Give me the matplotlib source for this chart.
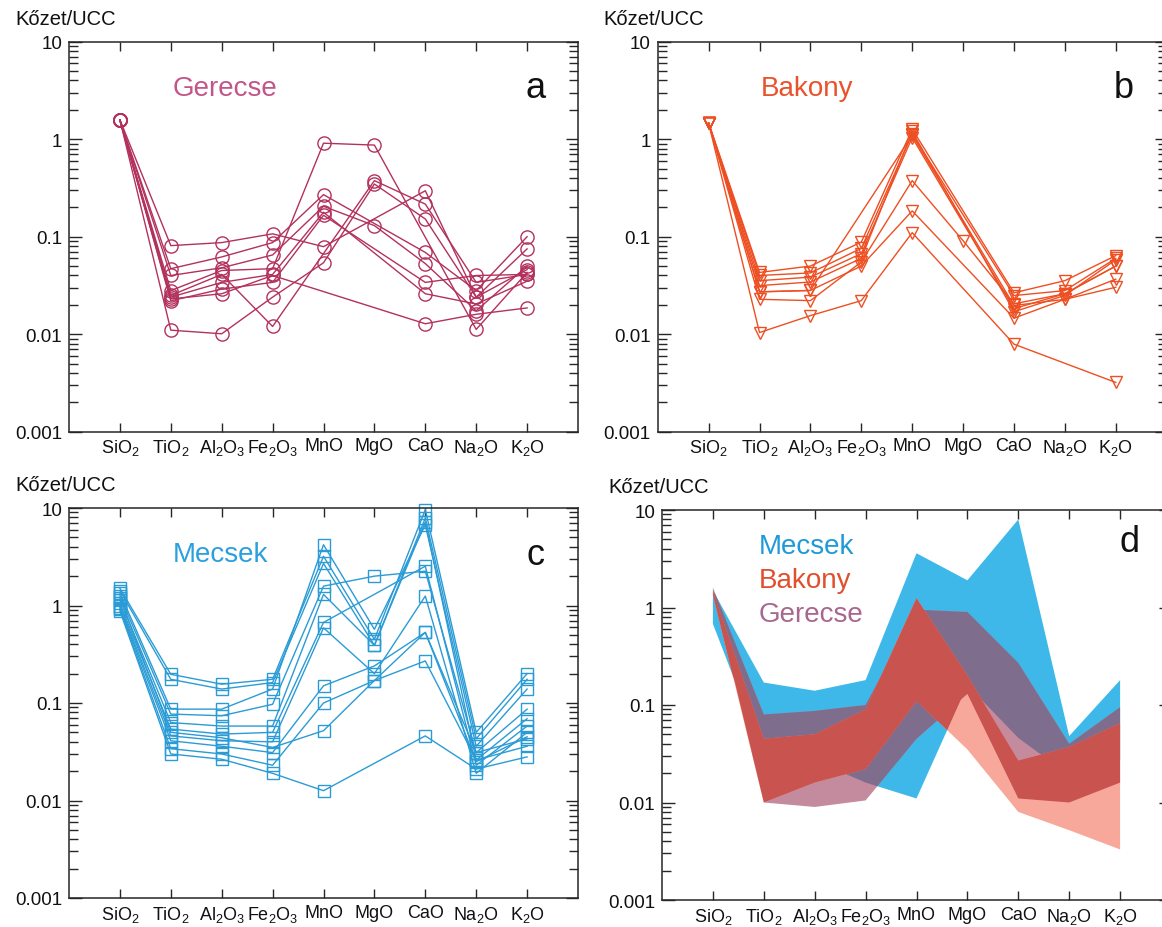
#!/usr/bin/env python3
"""UCC-normalised major oxide spider plots for Gerecse, Bakony and Mecsek."""

import matplotlib

matplotlib.use("Agg")
import matplotlib.pyplot as plt
import numpy as np
from matplotlib.ticker import LogLocator, NullFormatter, NullLocator

nan = float("nan")

OXIDES = ["SiO$_2$", "TiO$_2$", "Al$_2$O$_3$", "Fe$_2$O$_3$", "MnO",
          "MgO", "CaO", "Na$_2$O", "K$_2$O"]
YTICKS = [0.001, 0.01, 0.1, 1, 10]
YTICK_LABELS = ["0.001", "0.01", "0.1", "1", "10"]

# rock / UCC, one row per sample (nan = not plotted, line joins neighbours)
GERECSE = [
    [1.58, 0.081, 0.087, 0.107, 0.079, nan, 0.296, 0.024, 0.075],
    [1.57, 0.047, 0.062, 0.087, 0.27, nan, 0.069, 0.028, 0.100],
    [1.58, 0.040, 0.048, 0.065, 0.205, 0.130, 0.053, 0.0174, 0.050],
    [1.56, 0.028, 0.045, 0.047, 0.91, 0.87, nan, 0.0112, 0.043],
    [1.58, 0.025, 0.041, 0.012, nan, 0.376, 0.216, 0.034, 0.041],
    [1.57, 0.024, 0.034, 0.041, 0.178, nan, 0.026, 0.0204, 0.035],
    [1.58, 0.022, 0.029, 0.034, 0.166, nan, 0.034, 0.040, 0.041],
    [1.58, 0.011, 0.0101, 0.024, 0.054, 0.347, 0.152, 0.024, 0.046],
    [1.57, 0.023, 0.026, 0.040, nan, nan, 0.0128, 0.016, 0.0186],
]

BAKONY = [
    [1.47, 0.043, 0.050, 0.088, 1.27, nan, 0.0266, 0.0354, 0.064],
    [1.46, 0.040, 0.0425, 0.076, 1.13, nan, 0.0249, 0.028, 0.060],
    [1.47, 0.0354, 0.0385, 0.067, 1.04, nan, 0.0183, 0.026, 0.050],
    [1.46, 0.0315, 0.0343, 0.060, 1.20, nan, 0.017, 0.025, 0.058],
    [1.47, 0.0272, 0.0281, nan, 1.10, nan, 0.0197, 0.0228, 0.0367],
    [1.46, 0.0228, 0.0221, 0.055, 0.376, 0.091, 0.0205, 0.026, 0.050],
    [1.47, 0.0272, 0.0281, 0.050, 0.184, nan, 0.0146, 0.0228, 0.0303],
    [1.46, 0.0104, 0.0155, 0.0221, 0.110, nan, 0.0079, nan, 0.0032],
]

MECSEK = [
    [1.50, 0.197, 0.156, 0.175, 3.2, 0.45, 9.6, 0.050, 0.200],
    [1.42, 0.175, 0.139, 0.162, 2.7, 0.39, 7.9, 0.043, 0.175],
    [1.35, 0.0865, 0.0865, 0.139, 4.2, 0.57, 6.7, 0.036, 0.139],
    [1.25, 0.077, 0.074, 0.097, 1.58, 2.0, 2.25, 0.031, 0.0865],
    [1.15, 0.063, 0.058, 0.058, 1.30, 0.39, 7.2, 0.026, 0.069],
    [1.05, 0.054, 0.048, 0.050, 0.67, nan, 2.53, 0.023, 0.058],
    [1.00, 0.046, 0.041, 0.040, 0.59, 0.20, 1.25, 0.019, 0.050],
    [0.95, 0.041, 0.036, 0.031, 0.15, 0.24, 0.53, 0.031, 0.043],
    [0.92, 0.034, 0.030, 0.023, 0.10, 0.17, 0.27, 0.026, 0.036],
    [0.88, 0.030, 0.0265, 0.019, 0.0126, nan, 0.046, 0.021, 0.028],
    [1.20, 0.050, 0.044, 0.035, 0.052, 0.17, 0.53, 0.025, 0.045],
]

# panel d envelopes (low / high edge of each field)
MECSEK_HIGH = [1.5, 0.17, 0.14, 0.18, 3.6, 1.9, 8.0, 0.048, 0.18]
MECSEK_LOW = [0.68, 0.030, 0.027, 0.016, 0.011, 0.16, 0.046, 0.019, 0.027]
GERECSE_HIGH = [1.6, 0.08, 0.087, 0.10, 0.95, 0.90, 0.27, 0.040, 0.095]
GERECSE_LOW = [1.5, 0.010, 0.009, 0.0105, 0.045, 0.13, 0.011, 0.010, 0.016]
BAKONY_HIGH = [1.45, 0.045, 0.050, 0.090, 1.25, 0.20, 0.027, 0.037, 0.065]
BAKONY_LOW = [1.35, 0.010, 0.016, 0.022, 0.11, 0.035, 0.008, 0.0052, 0.0033]

GERECSE_COLOR = "#b3315d"
BAKONY_COLOR = "#ee4f22"
MECSEK_COLOR = "#2b9bd6"

plt.rcParams["font.family"] = ["Liberation Sans", "DejaVu Sans"]
plt.rcParams["mathtext.default"] = "regular"

AXIS_COLOR = "#262626"
X = np.arange(1, len(OXIDES) + 1)


def style_axes(ax):
    ax.set_yscale("log")
    ax.set_xlim(0, 10)
    ax.set_ylim(0.001, 10)
    ax.set_xticks(X, labels=OXIDES)
    ax.xaxis.set_minor_locator(NullLocator())
    ax.set_yticks(YTICKS, labels=YTICK_LABELS)
    ax.yaxis.set_minor_locator(LogLocator(base=10, subs=np.arange(2, 10)))
    ax.yaxis.set_minor_formatter(NullFormatter())
    ax.tick_params(axis="both", which="both", direction="in", top=True,
                   right=True, color=AXIS_COLOR, width=1.0,
                   labelcolor="#111111")
    ax.tick_params(axis="y", which="major", length=9, pad=5, labelsize=13.5)
    ax.tick_params(axis="y", which="minor", length=6.5)
    ax.tick_params(axis="x", which="major", length=6.5, pad=4, labelsize=13)
    for spine in ax.spines.values():
        spine.set_color(AXIS_COLOR)
        spine.set_linewidth(1.1)
    ax.text(-0.106, 1.06, "Kőzet/UCC", transform=ax.transAxes,
            ha="left", va="center", fontsize=14.5, color="#111111")


def draw_samples(ax, samples, color, marker, size):
    for row in samples:
        vals = np.array(row, dtype=float)
        ok = ~np.isnan(vals)
        ax.plot(X[ok], vals[ok], color=color, lw=1.0, marker=marker,
                ms=size, mfc="none", mec=color, mew=1.0, clip_on=False)


def field(ax, low, high, color, clip=None):
    xs = np.concatenate([X, X[::-1]])
    ys = np.concatenate([np.array(high), np.array(low)[::-1]])
    poly = ax.fill(xs, ys, color=color, lw=0)[0]
    if clip is not None:
        poly.set_clip_path(clip)
    return poly


def panel_label(ax, letter, name, color):
    ax.text(0.203, 0.882, name, transform=ax.transAxes, ha="left",
            va="center", fontsize=20, color=color)
    ax.text(0.916, 0.882, letter, transform=ax.transAxes, ha="center",
            va="center", fontsize=26, color="#111111")


def main():
    fig = plt.figure(figsize=(11.62, 9.28), dpi=100)
    w, h = 509 / 1162, 390 / 928

    ax_a = fig.add_axes([69 / 1162, 1 - 432.7 / 928, w, h])
    ax_b = fig.add_axes([657.7 / 1162, 1 - 432.7 / 928, w, h])
    ax_c = fig.add_axes([69 / 1162, 1 - 899 / 928, w, h])
    ax_d = fig.add_axes([662 / 1162, 1 - 901 / 928, w, h])

    for ax in (ax_a, ax_b, ax_c, ax_d):
        style_axes(ax)

    draw_samples(ax_a, GERECSE, GERECSE_COLOR, "o", 9.5)
    panel_label(ax_a, "a", "Gerecse", "#c2558a")

    draw_samples(ax_b, BAKONY, BAKONY_COLOR, "v", 9)
    panel_label(ax_b, "b", "Bakony", "#e9522b")

    draw_samples(ax_c, MECSEK, MECSEK_COLOR, "s", 9)
    panel_label(ax_c, "c", "Mecsek", "#2ca0dc")

    # d: overlapping fields; darker tones where fields overlap
    mec = field(ax_d, MECSEK_LOW, MECSEK_HIGH, "#3db8e8")
    ger = field(ax_d, GERECSE_LOW, GERECSE_HIGH, "#c48a9e")
    field(ax_d, GERECSE_LOW, GERECSE_HIGH, "#7f6d8d", clip=mec)
    field(ax_d, BAKONY_LOW, BAKONY_HIGH, "#f7a89b")
    field(ax_d, BAKONY_LOW, BAKONY_HIGH, "#c9544f", clip=ger)
    field(ax_d, BAKONY_LOW, BAKONY_HIGH, "#c9544f", clip=mec)

    for y, name, color in [(0.908, "Mecsek", "#1f9ad6"),
                           (0.820, "Bakony", "#e0502e"),
                           (0.734, "Gerecse", "#a8678f")]:
        ax_d.text(0.19, y, name, transform=ax_d.transAxes, ha="left",
                  va="center", fontsize=20, color=color)
    ax_d.text(0.918, 0.918, "d", transform=ax_d.transAxes, ha="center",
              va="center", fontsize=26, color="#111111")

    fig.savefig("out.png", dpi=100)


if __name__ == "__main__":
    main()
